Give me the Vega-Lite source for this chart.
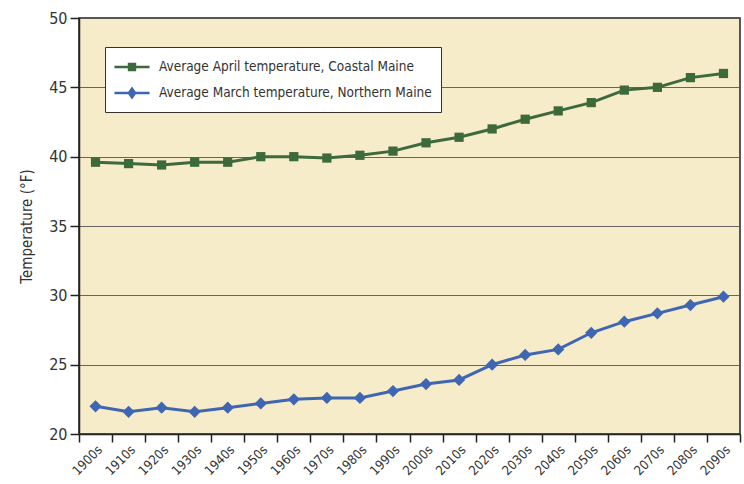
{
  "$schema": "https://vega.github.io/schema/vega-lite/v6.json",
  "autosize": "none",
  "width": 661,
  "height": 416,
  "padding": {"left": 79, "top": 18, "right": 4, "bottom": 50},
  "background": "#ffffff",
  "config": {
    "font": "DejaVu Sans Condensed, Open Sans, sans-serif",
    "view": {"fill": "#f6ecc9", "stroke": "#222222", "strokeWidth": 1.5},
    "axis": {"labelFont": "DejaVu Sans Condensed, Open Sans, sans-serif", "titleFont": "DejaVu Sans Condensed, Open Sans, sans-serif", "labelColor": "#333333", "titleColor": "#333333", "domainColor": "#222222", "tickColor": "#222222", "domainWidth": 1.5, "tickWidth": 1.5},
    "legend": {"labelFont": "DejaVu Sans Condensed, Open Sans, sans-serif"}
  },
  "datasets": {
    "temps": [
      {"decade": "1900s", "series": "Average April temperature, Coastal Maine", "temp": 39.6},
      {"decade": "1910s", "series": "Average April temperature, Coastal Maine", "temp": 39.5},
      {"decade": "1920s", "series": "Average April temperature, Coastal Maine", "temp": 39.4},
      {"decade": "1930s", "series": "Average April temperature, Coastal Maine", "temp": 39.6},
      {"decade": "1940s", "series": "Average April temperature, Coastal Maine", "temp": 39.6},
      {"decade": "1950s", "series": "Average April temperature, Coastal Maine", "temp": 40.0},
      {"decade": "1960s", "series": "Average April temperature, Coastal Maine", "temp": 40.0},
      {"decade": "1970s", "series": "Average April temperature, Coastal Maine", "temp": 39.9},
      {"decade": "1980s", "series": "Average April temperature, Coastal Maine", "temp": 40.1},
      {"decade": "1990s", "series": "Average April temperature, Coastal Maine", "temp": 40.4},
      {"decade": "2000s", "series": "Average April temperature, Coastal Maine", "temp": 41.0},
      {"decade": "2010s", "series": "Average April temperature, Coastal Maine", "temp": 41.4},
      {"decade": "2020s", "series": "Average April temperature, Coastal Maine", "temp": 42.0},
      {"decade": "2030s", "series": "Average April temperature, Coastal Maine", "temp": 42.7},
      {"decade": "2040s", "series": "Average April temperature, Coastal Maine", "temp": 43.3},
      {"decade": "2050s", "series": "Average April temperature, Coastal Maine", "temp": 43.9},
      {"decade": "2060s", "series": "Average April temperature, Coastal Maine", "temp": 44.8},
      {"decade": "2070s", "series": "Average April temperature, Coastal Maine", "temp": 45.0},
      {"decade": "2080s", "series": "Average April temperature, Coastal Maine", "temp": 45.7},
      {"decade": "2090s", "series": "Average April temperature, Coastal Maine", "temp": 46.0},
      {"decade": "1900s", "series": "Average March temperature, Northern Maine", "temp": 22.0},
      {"decade": "1910s", "series": "Average March temperature, Northern Maine", "temp": 21.6},
      {"decade": "1920s", "series": "Average March temperature, Northern Maine", "temp": 21.9},
      {"decade": "1930s", "series": "Average March temperature, Northern Maine", "temp": 21.6},
      {"decade": "1940s", "series": "Average March temperature, Northern Maine", "temp": 21.9},
      {"decade": "1950s", "series": "Average March temperature, Northern Maine", "temp": 22.2},
      {"decade": "1960s", "series": "Average March temperature, Northern Maine", "temp": 22.5},
      {"decade": "1970s", "series": "Average March temperature, Northern Maine", "temp": 22.6},
      {"decade": "1980s", "series": "Average March temperature, Northern Maine", "temp": 22.6},
      {"decade": "1990s", "series": "Average March temperature, Northern Maine", "temp": 23.1},
      {"decade": "2000s", "series": "Average March temperature, Northern Maine", "temp": 23.6},
      {"decade": "2010s", "series": "Average March temperature, Northern Maine", "temp": 23.9},
      {"decade": "2020s", "series": "Average March temperature, Northern Maine", "temp": 25.0},
      {"decade": "2030s", "series": "Average March temperature, Northern Maine", "temp": 25.7},
      {"decade": "2040s", "series": "Average March temperature, Northern Maine", "temp": 26.1},
      {"decade": "2050s", "series": "Average March temperature, Northern Maine", "temp": 27.3},
      {"decade": "2060s", "series": "Average March temperature, Northern Maine", "temp": 28.1},
      {"decade": "2070s", "series": "Average March temperature, Northern Maine", "temp": 28.7},
      {"decade": "2080s", "series": "Average March temperature, Northern Maine", "temp": 29.3},
      {"decade": "2090s", "series": "Average March temperature, Northern Maine", "temp": 29.9}
    ]
  },
  "data": {"name": "temps"},
  "encoding": {
    "x": {
      "field": "decade",
      "type": "ordinal",
      "scale": {"type": "band", "paddingInner": 0, "paddingOuter": 0},
      "axis": {"title": null, "labelAngle": -45, "labelAlign": "right", "labelBaseline": "top", "labelFontSize": 13, "tickBand": "extent", "tickSize": 8, "grid": false, "labelPadding": 1}
    },
    "y": {
      "field": "temp",
      "type": "quantitative",
      "scale": {"domain": [20, 50], "nice": false, "zero": false},
      "axis": {"title": "Temperature (°F)", "titleFontSize": 15, "titleFontWeight": "normal", "titlePadding": 14, "values": [20, 25, 30, 35, 40, 45, 50], "labelFontSize": 16, "tickSize": 9, "grid": true, "gridColor": "#555555", "gridWidth": 1, "gridOpacity": 0.9, "labelPadding": 3}
    },
    "color": {
      "field": "series",
      "type": "nominal",
      "scale": {"range": ["#3c6a3a", "#3f66b3"]},
      "legend": {
        "title": null,
        "orient": "none",
        "legendX": 26,
        "legendY": 29,
        "direction": "vertical",
        "fillColor": "#ffffff",
        "strokeColor": "#333333",
        "padding": 9,
        "rowPadding": 7,
        "labelFontSize": 13.5,
        "labelColor": "#333333",
        "labelLimit": 400,
        "labelOffset": 16,
        "symbolSize": 380,
        "symbolStrokeWidth": 2.5,
        "symbolOffset": 7,
        "encode": {
          "symbols": {
            "update": {
              "shape": {"signal": "datum.value === 'Average April temperature, Coastal Maine' ? 'M-1.8,0H1.8M-0.3,-0.3H0.3V0.3H-0.3Z' : 'M-1.8,0H1.8M0,-0.45L0.32,0L0,0.45L-0.32,0Z'"},
              "strokeWidth": {"value": 2.5}
            }
          }
        }
      }
    }
  },
  "layer": [
    {"mark": {"type": "line", "strokeWidth": 3}},
    {
      "mark": {"type": "point", "filled": true, "opacity": 1},
      "encoding": {
        "shape": {"field": "series", "type": "nominal", "scale": {"range": ["square", "diamond"]}, "legend": null},
        "size": {"field": "series", "type": "nominal", "scale": {"range": [85, 150]}, "legend": null}
      }
    }
  ]
}
